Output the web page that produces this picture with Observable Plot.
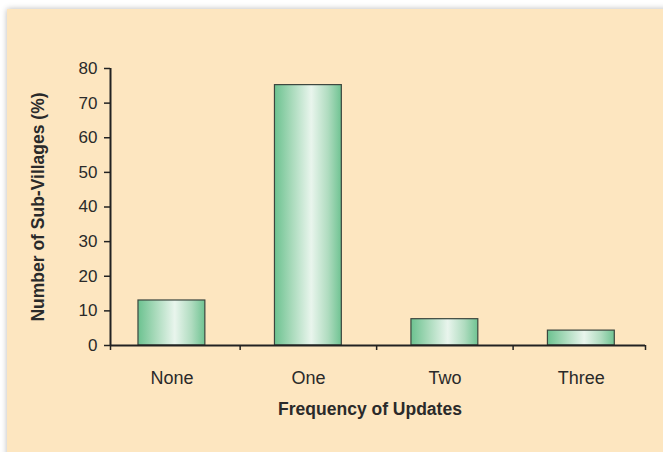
<!DOCTYPE html>
<html>
<head>
<meta charset="utf-8">
<script src="https://cdn.jsdelivr.net/npm/d3@7"></script>
<script src="https://cdn.jsdelivr.net/npm/@observablehq/plot@0.6"></script>
<style>
  html, body { margin: 0; padding: 0; background: #ffffff; }
  #page { position: relative; width: 663px; height: 452px; overflow: hidden; background: #ffffff; }
  #panel { position: absolute; left: 7px; top: 9px; right: -10px; bottom: -10px; background: #fde6c0;
           box-shadow: 0 0 6px rgba(0,0,0,0.28); }
  #chart { position: absolute; left: 0; top: 0; }
  #chart svg { background: transparent; font-family: "Liberation Sans", Arial, sans-serif; }
</style>
</head>
<body>
<div id="page"><div id="panel"></div><div id="chart"></div></div>
<script>
// Data
const categories = ["None", "One", "Two", "Three"];
const values = [13, 75.2, 7.6, 4.3];
const yTicks = [0, 10, 20, 30, 40, 50, 60, 70, 80];
const yTitle = "Number of Sub-Villages (%)";
const xTitle = "Frequency of Updates";

const data = categories.map((c, i) => ({ i, category: c, value: values[i] }));
const xDomain = [-0.45, 3.47];
const boundaries = [xDomain[0], ...categories.slice(1).map((_, k) => k + 0.5), xDomain[1]];
const halfBar = 0.245;

const plot = Plot.plot({
  width: 663,
  height: 452,
  marginLeft: 110,
  marginRight: 18,
  marginTop: 68,
  marginBottom: 107,
  style: { background: "transparent", fontFamily: "'Liberation Sans', Arial, sans-serif", color: "#2a2a2a" },
  x: { type: "linear", domain: xDomain },
  y: { domain: [0, 80] },
  marks: [
    Plot.rectY(data, {
      x1: d => d.i - halfBar,
      x2: d => d.i + halfBar,
      y1: 0,
      y2: "value",
      fill: "url(#barGrad)",
      stroke: "#3b463e",
      strokeWidth: 1.2
    }),
    Plot.axisY({
      ticks: yTicks,
      tickSize: 6,
      tickPadding: 7,
      fontSize: 17,
      stroke: "#222",
      strokeWidth: 1.5,
      fill: "#2a2a2a",
      label: null
    }),
    Plot.axisX({
      ticks: boundaries,
      tickSize: 5,
      tickFormat: () => "",
      stroke: "#222",
      strokeWidth: 1.5,
      label: null
    }),
    Plot.axisX({
      ticks: data.map(d => d.i),
      tickSize: 0,
      tickPadding: 26,
      tickFormat: i => categories[i],
      fontSize: 18,
      fill: "#2a2a2a",
      label: null
    }),
    Plot.ruleX([xDomain[0]], { stroke: "#222", strokeWidth: 2 }),
    Plot.ruleY([0], { stroke: "#222", strokeWidth: 2 }),
    Plot.text([xTitle], {
      frameAnchor: "bottom",
      dx: -8,
      dy: 69,
      text: d => d,
      fontSize: 17.5,
      fontWeight: "bold",
      fill: "#2a2a2a"
    }),
    Plot.text([yTitle], {
      frameAnchor: "left",
      textAnchor: "middle",
      dx: -72,
      rotate: -90,
      text: d => d,
      fontSize: 17.5,
      fontWeight: "bold",
      fill: "#2a2a2a"
    })
  ]
});

// gradient definition for the bars
const ns = "http://www.w3.org/2000/svg";
const defs = document.createElementNS(ns, "defs");
const grad = document.createElementNS(ns, "linearGradient");
grad.setAttribute("id", "barGrad");
grad.setAttribute("x1", "0"); grad.setAttribute("x2", "1");
grad.setAttribute("y1", "0"); grad.setAttribute("y2", "0");
[["0%", "#6cc290"], ["25%", "#a6d9b9"], ["55%", "#e9f5ed"], ["80%", "#b0dcc0"], ["100%", "#6fc392"]].forEach(([o, c]) => {
  const s = document.createElementNS(ns, "stop");
  s.setAttribute("offset", o); s.setAttribute("stop-color", c);
  grad.appendChild(s);
});
defs.appendChild(grad);
plot.insertBefore(defs, plot.firstChild);

document.getElementById("chart").appendChild(plot);
</script>
</body>
</html>
